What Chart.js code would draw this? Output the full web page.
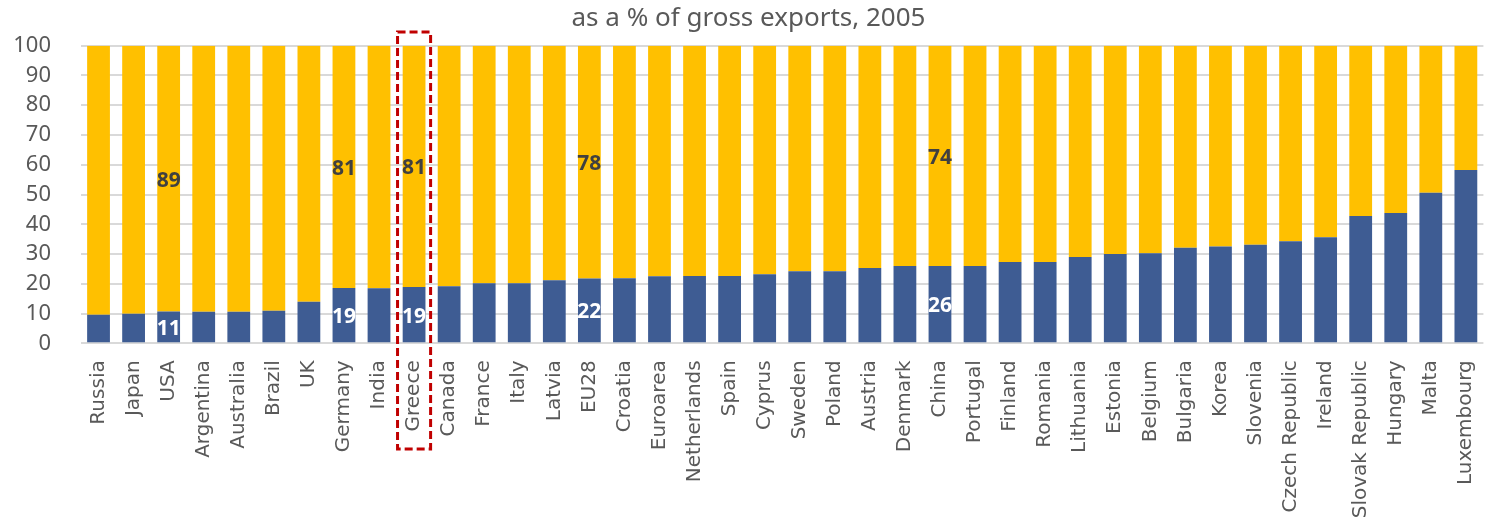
<!DOCTYPE html>
<html>
<head>
<meta charset="utf-8">
<script src="https://cdn.jsdelivr.net/npm/chart.js@4/dist/chart.umd.min.js"></script>
<style>
    html, body { margin: 0; padding: 0; background: #ffffff; }
    #contenedor { width: 1507px; height: 521px; position: relative; }
</style>
</head>
<body>
<div id="contenedor"><canvas id="grafica"></canvas></div>
<script>
// Países ordenados por el peso del contenido extranjero
const paises = [
    "Russia", "Japan", "USA", "Argentina", "Australia", "Brazil", "UK", "Germany", "India", "Greece",
    "Canada", "France", "Italy", "Latvia", "EU28", "Croatia", "Euroarea", "Netherlands", "Spain", "Cyprus",
    "Sweden", "Poland", "Austria", "Denmark", "China", "Portugal", "Finland", "Romania", "Lithuania", "Estonia",
    "Belgium", "Bulgaria", "Korea", "Slovenia", "Czech Republic", "Ireland", "Slovak Republic", "Hungary", "Malta", "Luxembourg"
];

// Parte azul (extranjero) y parte amarilla (doméstico), en % de exportaciones brutas
const extranjero = [
    9.6, 9.9, 10.7, 10.6, 10.6, 10.9, 14.0, 18.6, 18.5, 18.9,
    19.2, 20.2, 20.2, 21.2, 21.8, 21.9, 22.5, 22.6, 22.6, 23.2,
    24.2, 24.2, 25.3, 26.0, 26.0, 26.0, 27.3, 27.3, 29.0, 30.0,
    30.3, 32.1, 32.5, 33.1, 34.3, 35.6, 42.8, 43.8, 50.6, 58.2
];
const domestico = [
    90.4, 90.1, 89.3, 89.4, 89.4, 89.1, 86.0, 81.4, 81.5, 81.1,
    80.8, 79.8, 79.8, 78.8, 78.2, 78.1, 77.5, 77.4, 77.4, 76.8,
    75.8, 75.8, 74.7, 74.0, 74.0, 74.0, 72.7, 72.7, 71.0, 70.0,
    69.7, 67.9, 67.5, 66.9, 65.7, 64.4, 57.2, 56.2, 49.4, 41.8
];

const ticksY = [0, 10, 20, 30, 40, 50, 60, 70, 80, 90, 100];
const paisesEtiquetados = ["USA", "Germany", "Greece", "EU28", "China"];
const paisDestacado = "Greece";

const gris = "#595959";

// Etiquetas de valor centradas en cada tramo
const etiquetasValor = {
    id: "etiquetasValor",
    afterDatasetsDraw(chart) {
        const ctx = chart.ctx;
        ctx.save();
        ctx.font = "bold 21px 'Noto Sans'";
        ctx.textAlign = "center";
        ctx.textBaseline = "middle";
        chart.data.datasets.forEach((dataset, i) => {
            const meta = chart.getDatasetMeta(i);
            ctx.fillStyle = i === 0 ? "#ffffff" : "#404040";
            paisesEtiquetados.forEach((pais) => {
                const idx = paises.indexOf(pais);
                const barra = meta.data[idx];
                const y = (barra.y + barra.base) / 2;
                ctx.fillText(Math.round(dataset.data[idx]), barra.x, y + 2);
            });
        });
        ctx.restore();
    }
};

// Recuadro discontinuo alrededor del país destacado
const recuadro = {
    id: "recuadro",
    afterDraw(chart) {
        const ctx = chart.ctx;
        const x = chart.scales.x.getPixelForValue(paises.indexOf(paisDestacado));
        const mitad = chart.scales.x.width / paises.length / 2 - 1;
        ctx.save();
        ctx.strokeStyle = "#c00000";
        ctx.lineWidth = 3;
        ctx.setLineDash([8, 4]);
        ctx.strokeRect(x - mitad, 32, mitad * 2, 417);
        ctx.restore();
    }
};

new Chart(document.getElementById("grafica"), {
    type: "bar",
    data: {
        labels: paises,
        datasets: [
            {
                label: "Extranjero",
                data: extranjero,
                backgroundColor: "#3e5c93",
                barPercentage: 0.65,
                categoryPercentage: 1
            },
            {
                label: "Doméstico",
                data: domestico,
                backgroundColor: "#ffc000",
                barPercentage: 0.65,
                categoryPercentage: 1
            }
        ]
    },
    options: {
        responsive: true,
        maintainAspectRatio: false,
        animation: false,
        layout: { padding: { left: 0, right: 10, top: 0, bottom: 0 } },
        plugins: {
            legend: { display: false },
            tooltip: { enabled: false },
            title: {
                display: true,
                text: "as a % of gross exports, 2005",
                color: gris,
                font: { family: "'Noto Sans'", size: 26, weight: "normal" },
                padding: { top: 3, bottom: 11.5 }
            }
        },
        scales: {
            x: {
                stacked: true,
                grid: { display: false, drawTicks: false },
                border: { display: false },
                ticks: {
                    color: gris,
                    font: { family: "'DejaVu Sans'", size: 20 },
                    minRotation: 90,
                    maxRotation: 90,
                    autoSkip: false,
                    padding: 17
                },
                afterFit(escala) { escala.height = 177.7; }
            },
            y: {
                stacked: true,
                min: 0,
                max: 100,
                border: { display: false },
                grid: { color: "#d9d9d9", lineWidth: 2, drawTicks: false },
                afterBuildTicks(escala) { escala.ticks = ticksY.map((v) => ({ value: v })); },
                ticks: {
                    color: gris,
                    font: { family: "'Noto Sans'", size: 22 },
                    padding: 30
                },
                afterFit(escala) { escala.width = 81; }
            }
        }
    },
    plugins: [etiquetasValor, recuadro]
});
</script>
</body>
</html>
